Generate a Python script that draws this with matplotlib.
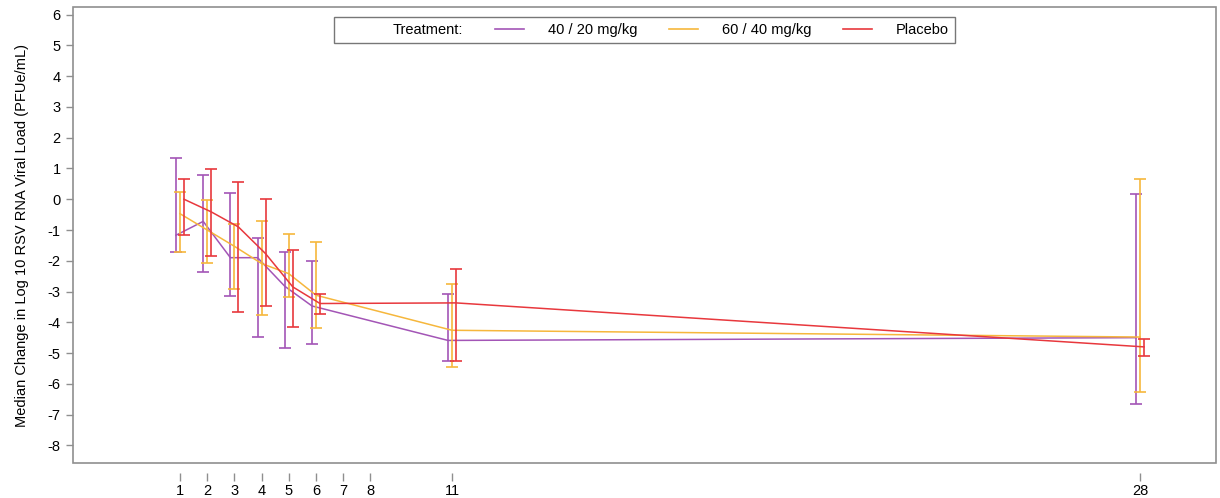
import numpy as np
import matplotlib
matplotlib.use('Agg')
import matplotlib.pyplot as plt
import matplotlib.transforms as mtransforms
from matplotlib.lines import Line2D
from matplotlib.patches import Rectangle

plt.rcParams['font.family'] = ['Liberation Sans', 'DejaVu Sans']
plt.rcParams['axes.unicode_minus'] = False

# Data
days = [1, 2, 3, 4, 5, 6, 11, 28]
tick_days = [1, 2, 3, 4, 5, 6, 7, 8, 11, 28]

groups = ['40 / 20 mg/kg', '60 / 40 mg/kg', 'Placebo']
colors = ['#a355b6', '#f6b73c', '#e8383d']

med_40 = [-1.17, -0.72, -1.90, -1.90, -2.83, -3.47, -4.59, -4.50]
up_40 = [1.34, 0.80, 0.19, -1.27, -1.72, -2.02, -3.07, 0.17]
lo_40 = [-1.71, -2.37, -3.14, -4.48, -4.82, -4.69, -5.26, -6.67]

med_60 = [-0.47, -1.00, -1.53, -2.09, -2.42, -3.12, -4.26, -4.48]
up_60 = [0.22, -0.04, -0.81, -0.72, -1.12, -1.39, -2.77, 0.65]
lo_60 = [-1.71, -2.08, -2.92, -3.77, -3.18, -4.17, -5.45, -6.28]

med_pl = [0.00, -0.41, -0.90, -1.77, -2.85, -3.39, -3.37, -4.80]
up_pl = [0.66, 0.98, 0.56, 0.02, -1.66, -3.09, -2.27, -4.54]
lo_pl = [-1.15, -1.83, -3.65, -3.48, -4.15, -3.72, -5.26, -5.11]

medians = [med_40, med_60, med_pl]
uppers = [up_40, up_60, up_pl]
lowers = [lo_40, lo_60, lo_pl]


# piecewise linear day axis (days 1-11 spaced tighter than 11-28)
def fwd(d):
    d = np.asarray(d, dtype=float)
    return np.where(d <= 11, (d - 1) * 27.2, 272 + (d - 11) * 40.47)


def inv(p):
    p = np.asarray(p, dtype=float)
    return np.where(p <= 272, 1 + p / 27.2, 11 + (p - 272) / 40.47)


fig = plt.figure(figsize=(12.2, 4.98), dpi=100)
ax = fig.add_axes([73 / 1220, 1 - 463 / 498, (1216 - 73) / 1220, 456 / 498])
ax.set_xscale('function', functions=(fwd, inv))

frame_col = '#8f8f8f'
offsets = [-4, 0, 4]  # pixel dodge

for i in range(3):
    med = np.array(medians[i])
    yerr = [med - np.array(lowers[i]), np.array(uppers[i]) - med]
    tr = ax.transData + mtransforms.ScaledTranslation(offsets[i] / 100, 0, fig.dpi_scale_trans)
    ax.errorbar(days, med, yerr=yerr, color=colors[i], lw=1.1, elinewidth=1.2,
                capsize=4.5, capthick=1.2, transform=tr, zorder=3 + i)

ax.set_xlim(float(inv(-107)), float(inv(1036)))
ax.set_ylim(-8.575, 6.25)

ax.set_yticks(range(-8, 7))
ax.set_xticks(tick_days)
ax.set_xticklabels([str(d) for d in tick_days])
ax.xaxis.set_minor_locator(matplotlib.ticker.NullLocator())

for s in ax.spines.values():
    s.set_visible(False)
ax.spines['bottom'].set_position(('outward', 7))
ax.add_patch(Rectangle((0, 0), 1, 1, transform=ax.transAxes, fill=False,
                       ec=frame_col, lw=1.2, zorder=10, clip_on=False))

ax.tick_params(axis='both', labelsize=10.5, colors=frame_col, labelcolor='black')
ax.tick_params(axis='y', length=5, width=1, pad=4)
ax.tick_params(axis='x', length=6, width=1, pad=2)

ax.set_ylabel('Median Change in Log 10 RSV RNA Viral Load (PFUe/mL)', fontsize=10.5, labelpad=13)

handles = [Line2D([], [], color='none')] + [Line2D([], [], color=c, lw=1.2) for c in colors]
labels = ['Treatment:'] + groups
leg = ax.legend(handles, labels, ncol=4, loc='upper center', bbox_to_anchor=(0.5, 1 - 10 / 456),
                borderaxespad=0, fancybox=False, edgecolor='#555555', fontsize=10.5,
                handlelength=2.0, handletextpad=1.6, columnspacing=2.2, borderpad=0.4)
leg.get_frame().set_linewidth(1.0)

fig.savefig('out.png', dpi=100)
